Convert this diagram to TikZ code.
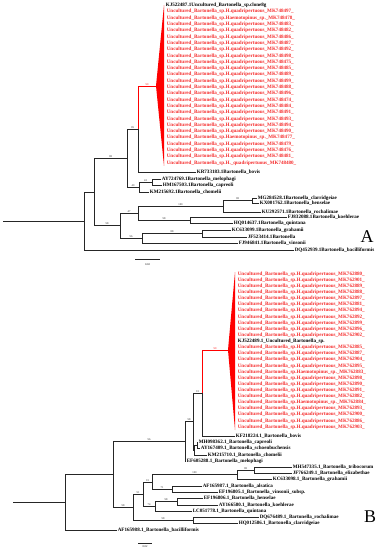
\documentclass[tikz,border=0pt]{standalone}
\usepackage{fontspec}
\setmainfont{Liberation Serif}
\usepackage{xcolor}
\usepackage{tikz}
\definecolor{clade}{RGB}{255,0,0}
\definecolor{cladetxt}{RGB}{245,45,45}

\begin{document}
\begin{tikzpicture}[x=1bp,y=-1bp,
  br/.style={line width=0.55bp, black!85},
  rbr/.style={line width=0.55bp, clade},
  lf/.style={anchor=west, inner sep=0.6bp, font=\fontsize{5.1}{5.1}\selectfont\bfseries},
  rlf/.style={lf, text=cladetxt},
  bs/.style={font=\fontsize{2.8}{2.8}\selectfont, inner sep=0.4bp, above},
  panel/.style={font=\fontsize{18}{18}\selectfont}]
\useasboundingbox (0,0) rectangle (378,550);

% Tree A - internal nodes
\coordinate (ra) at (3,221);
\coordinate (a0) at (84,221);
\coordinate (a1) at (94,192);
\coordinate (a2) at (127,158);
\coordinate (a3) at (138,129);
\coordinate (a4) at (156,86);
\coordinate (a5) at (139,187);
\coordinate (a6) at (152,182);
\coordinate (a7) at (120,225.5);
\coordinate (a8) at (138,213);
\coordinate (a9) at (223,206);
\coordinate (a10) at (252,200.5);
\coordinate (a12) at (190,220);
\coordinate (a13) at (142,238);
\coordinate (a14) at (202,233.5);

% Tree A - collapsed clade
\fill[clade] (a4) -- (164,5) -- (164,166) -- cycle;
\node[lf] (kj487) at (165,5.4) {KJ522487.1Uncultured\_Bartonella\_sp.clone8g};
\foreach \lab [count=\i from 0] in {H.quadripertuous\_MK748497\_, Haemotopinus\_sp.\_MK748478\_,
  H.quadripertuous\_MK748483\_, H.quadripertuous\_MK748482\_, H.quadripertuous\_MK748486\_,
  H.quadripertuous\_MK748487\_, H.quadripertuous\_MK748492\_, H.quadripertuous\_MK748498\_,
  H.quadripertuous\_MK748475\_, H.quadripertuous\_MK748485\_, H.quadripertuous\_MK748489\_,
  H.quadripertuous\_MK748499\_, H.quadripertuous\_MK748488\_, H.quadripertuous\_MK748496\_,
  H.quadripertuous\_MK748474\_, H.quadripertuous\_MK748484\_, H.quadripertuous\_MK748491\_,
  H.quadripertuous\_MK748493\_, H.quadripertuous\_MK748494\_, H.quadripertuous\_MK748490\_,
  Haemotopinus\_sp.\_MK748477\_, H.quadripertuous\_MK748479\_, H.quadripertuous\_MK748476\_,
  H.quadripertuous\_MK748481\_, H.\_quadripertuous\_MK748480\_}
  \node[rlf] (ra\i) at (166,11.7+6.3*\i) {Uncultured\_Bartonella\_sp.\lab};

% Tree A - leaves
\node[lf] (kr733) at (196,172) {KR733183.1Bartonella\_bovis};
\node[lf] (ay724) at (161,179) {AY724769.1Bartonella\_melophagi};
\node[lf] (hm167) at (162,185) {HM167503.1Bartonella\_capreoli};
\node[lf] (km692) at (149,192) {KM215692.1Bartonella\_chomelii};
\node[lf] (mg284) at (257,198) {MG284528.1Bartonella\_clarridgeiae};
\node[lf] (kx001) at (259,203) {KX001762.1Bartonella\_henselae};
\node[lf] (ku292) at (261,212) {KU292571.1Bartonella\_rochalimae};
\node[lf] (fj832) at (287,217) {FJ832088.1Bartonella\_koehlerae};
\node[lf] (hq014) at (233,223) {HQ014637.1Bartonella\_quintana};
\node[lf] (kc099) at (231,230) {KC633099.1Bartonella\_grahamii};
\node[lf] (jf523) at (247,237) {JF523414.1Bartonella};
\node[lf] (fj946) at (238,243) {FJ946841.1Bartonella\_vinsonii};
\node[lf] (dq452) at (294,250) {DQ452939.1Bartonella\_bacilliformis};

% Tree A - branches
\draw[br] (ra) -- (a0);
\draw[br] (a0) |- (a1);
\draw[br] (a0) |- (dq452.west);
\draw[br] (a1) |- node[bs,pos=.75] {98} (a2);
\draw[br] (a1) |- node[bs,pos=.75] {98} (a7);
\draw[br] (a2) |- node[bs,pos=.75] {99} (a3);
\draw[br] (a2) |- node[bs,pos=.75] {49} (a5);
\draw[rbr] (a3) |- node[bs,pos=.75,text=clade] {99} (a4);
\draw[br] (a3) |- (kr733.west);
\draw[br] (a5) |- node[bs,pos=.75] {43} (a6);
\draw[br] (a5) |- (km692.west);
\draw[br] (a6) |- (ay724.west);
\draw[br] (a6) |- (hm167.west);
\draw[br] (a7) |- node[bs,pos=.75] {47} (a8);
\draw[br] (a7) |- node[bs,pos=.75] {96} (a13);
\draw[br] (a8) |- node[bs,pos=.75] {100} (a9);
\draw[br] (a8) |- node[bs,pos=.75] {98} (a12);
\draw[br] (a9) |- node[bs,pos=.75] {98} (a10);
\draw[br] (a9) |- (ku292.west);
\draw[br] (a10) |- (mg284.west);
\draw[br] (a10) |- (kx001.west);
\draw[br] (a12) |- (fj832.west);
\draw[br] (a12) |- (hq014.west);
\draw[br] (a13) |- node[bs,pos=.75] {88} (a14);
\draw[br] (a13) |- (fj946.west);
\draw[br] (a14) |- (kc099.west);
\draw[br] (a14) |- (jf523.west);

% Tree A - scale and panel letter
\coordinate (sa1) at (135,259);
\coordinate (sa2) at (160,259);
\draw[br] (sa1) -- (sa2);
\node[bs] (sa) at (147.5,266) {0.02};
\node[panel] (pa) at (367,237) {A};

% Tree B - internal nodes
\coordinate (rb) at (13,502);
\coordinate (b0) at (65,502);
\coordinate (b1) at (113,474);
\coordinate (b2) at (185,441);
\coordinate (b3) at (193,421.5);
\coordinate (b4) at (202,393);
\coordinate (bt) at (228,350);
\coordinate (b5) at (194,450);
\coordinate (b6) at (197,445);
\coordinate (b15) at (133,507);
\coordinate (b7) at (143,494);
\coordinate (b8) at (152,482);
\coordinate (b9) at (237,474.5);
\coordinate (b10) at (254,470);
\coordinate (b11) at (172,489);
\coordinate (b12) at (155,506);
\coordinate (b13) at (177,501.5);
\coordinate (b14) at (193,520);

% Tree B - collapsed clade
\fill[clade] (bt) -- (235,272) -- (235,430) -- cycle;
\foreach \lab [count=\i from 0] in {H.quadripertuous\_MK762880\_, H.quadripertuous\_MK762901\_,
  H.quadripertuous\_MK762889\_, H.quadripertuous\_MK762888\_, H.quadripertuous\_MK762897\_,
  H.quadripertuous\_MK762881\_, H.quadripertuous\_MK762894\_, H.quadripertuous\_MK762892\_,
  H.quadripertuous\_MK762899\_, H.quadripertuous\_MK762896\_, H.quadripertuous\_MK762902\_}
  \node[rlf] (rb\i) at (237,274+6.12*\i) {Uncultured\_Bartonella\_sp.\lab};
\node[lf] (kj489) at (237,341.3) {KJ522489.1\_Uncultured\_Bartonella\_sp.};
\foreach \lab [count=\i from 12] in {H.quadripertuous\_MK762885\_, H.quadripertuous\_MK762887\_,
  H.quadripertuous\_MK762904\_, H.quadripertuous\_MK762895\_, Haemotopinus\_sp.\_MK762883\_,
  H.quadripertuous\_MK762898\_, H.quadripertuous\_MK762890\_, H.quadripertuous\_MK762891\_,
  H.quadripertuous\_MK762882\_, Haemotopinus\_sp.\_MK762884\_, H.quadripertuous\_MK762893\_,
  H.quadripertuous\_MK762900\_, H.quadripertuous\_MK762886\_, H.quadripertuous\_MK762903\_}
  \node[rlf] (rb\i) at (237,274+6.12*\i) {Uncultured\_Bartonella\_sp.\lab};

% Tree B - leaves
\node[lf] (kf218) at (235,436) {KF218224.1\_Bartonella\_bovis};
\node[lf] (mh098) at (198,442) {MH098362.1\_Bartonella\_capreoli};
\node[lf] (ay167) at (200,448) {AY167409.1\_Bartonella\_schoenbuchensis};
\node[lf] (km710) at (207,455) {KM215710.1\_Bartonella\_chomelii};
\node[lf] (ef605) at (186,461) {EF605288.1\_Bartonella\_melophagi};
\node[lf] (mh547) at (292,467) {MH547335.1\_Bartonella\_tribocorum};
\node[lf] (jf766) at (292,473) {JF766249.1\_Bartonella\_elizabethae};
\node[lf] (kc098) at (272,479) {KC633098.1\_Bartonella\_grahamii};
\node[lf] (af987) at (202,486) {AF165987.1\_Bartonella\_alsatica};
\node[lf] (ef805) at (218,492) {EF196805.1\_Bartonella\_vinsonii\_subsp.};
\node[lf] (ef806) at (203,498) {EF196806.1\_Bartonella\_henselae};
\node[lf] (ay166) at (218,505) {AY166580.1\_Bartonella\_koehlerae};
\node[lf] (lc051) at (192,511) {LC051778.1\_Bartonella\_quintana};
\node[lf] (dq676) at (259,517) {DQ676489.1\_Bartonella\_rochalimae};
\node[lf] (hq012) at (238,523) {HQ012586.1\_Bartonella\_clarridgeiae};
\node[lf] (af988) at (117,530) {AF165988.1\_Bartonella\_bacilliformis};

% Tree B - branches
\draw[br] (rb) -- (b0);
\draw[br] (b0) |- (b1);
\draw[br] (b0) |- (af988.west);
\draw[br] (b1) |- node[bs,pos=.75] {96} (b2);
\draw[br] (b1) |- node[bs,pos=.75] {98} (b15);
\draw[br] (b2) |- node[bs,pos=.75] {98} (b3);
\draw[br] (b2) |- (ef605.west);
\draw[br] (b3) |- node[bs,pos=.75] {91} (b4);
\draw[br] (b3) |- (b5);
\draw[rbr] (b4) |- node[bs,pos=.75,text=clade] {99} (bt);
\draw[br] (b4) |- (kf218.west);
\draw[br] (b5) |- (b6);
\draw[br] (b5) |- (km710.west);
\draw[br] (b6) |- (mh098.west);
\draw[br] (b6) |- (ay167.west);
\draw[br] (b15) |- node[bs,pos=.75] {91} (b7);
\draw[br] (b15) |- node[bs,pos=.75] {98} (b14);
\draw[br] (b7) |- node[bs,pos=.75] {91} (b8);
\draw[br] (b7) |- node[bs,pos=.75] {74} (b12);
\draw[br] (b8) |- node[bs,pos=.75] {100} (b9);
\draw[br] (b8) |- node[bs,pos=.75] {71} (b11);
\draw[br] (b9) |- node[bs,pos=.75] {98} (b10);
\draw[br] (b9) |- (kc098.west);
\draw[br] (b10) |- (mh547.west);
\draw[br] (b10) |- (jf766.west);
\draw[br] (b11) |- (af987.west);
\draw[br] (b11) |- (ef805.west);
\draw[br] (b12) |- node[bs,pos=.75] {98} (b13);
\draw[br] (b12) |- (lc051.west);
\draw[br] (b13) |- (ef806.west);
\draw[br] (b13) |- (ay166.west);
\draw[br] (b14) |- (dq676.west);
\draw[br] (b14) |- (hq012.west);

% Tree B - scale and panel letter
\coordinate (sb1) at (138,543);
\coordinate (sb2) at (152,543);
\draw[br] (sb1) -- (sb2);
\node[bs] (sb) at (145,548.5) {0.02};
\node[panel] (pb) at (370,517) {B};
\end{tikzpicture}
\end{document}
